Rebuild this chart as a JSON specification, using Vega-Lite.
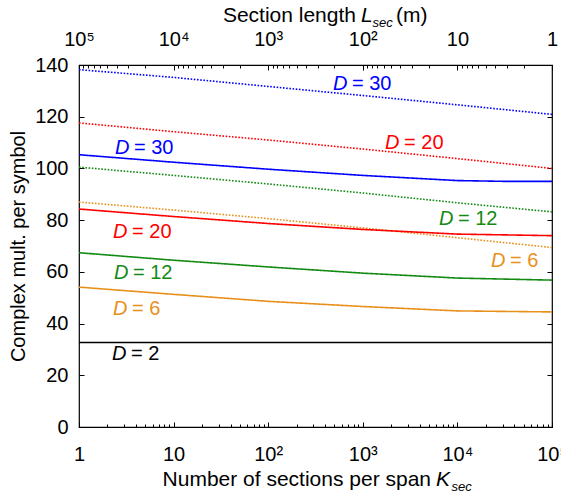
{
  "$schema": "https://vega.github.io/schema/vega-lite/v6.json",
  "width": 473,
  "height": 362,
  "autosize": "none",
  "padding": {"left": 79, "top": 65, "right": 9, "bottom": 72},
  "background": "white",
  "config": {
    "font": "Liberation Sans",
    "view": {"stroke": "black", "strokeWidth": 1.2},
    "axis": {
      "domain": false, "grid": false, "tickColor": "black", "tickWidth": 1,
      "labelColor": "black", "labelFont": "Liberation Sans", "labelFontSize": 20,
      "titleFont": "Liberation Sans", "titleFontWeight": "normal", "titleColor": "black",
      "labelFlush": false, "labelOverlap": false, "labelBound": false
    },
    "text": {"font": "Liberation Sans"}
  },
  "datasets": {
    "lines": [
      {"K": 1, "v": 138.2, "D": "30", "kind": "dotted", "s": "30d"},
      {"K": 10, "v": 135.2, "D": "30", "kind": "dotted", "s": "30d"},
      {"K": 100, "v": 131.7, "D": "30", "kind": "dotted", "s": "30d"},
      {"K": 1000, "v": 128.2, "D": "30", "kind": "dotted", "s": "30d"},
      {"K": 10000, "v": 124.6, "D": "30", "kind": "dotted", "s": "30d"},
      {"K": 100000, "v": 120.9, "D": "30", "kind": "dotted", "s": "30d"},
      {"K": 1, "v": 117.6, "D": "20", "kind": "dotted", "s": "20d"},
      {"K": 10, "v": 114.2, "D": "20", "kind": "dotted", "s": "20d"},
      {"K": 100, "v": 111.0, "D": "20", "kind": "dotted", "s": "20d"},
      {"K": 1000, "v": 107.5, "D": "20", "kind": "dotted", "s": "20d"},
      {"K": 10000, "v": 103.8, "D": "20", "kind": "dotted", "s": "20d"},
      {"K": 100000, "v": 100.0, "D": "20", "kind": "dotted", "s": "20d"},
      {"K": 1, "v": 100.5, "D": "12", "kind": "dotted", "s": "12d"},
      {"K": 10, "v": 97.3, "D": "12", "kind": "dotted", "s": "12d"},
      {"K": 100, "v": 94.0, "D": "12", "kind": "dotted", "s": "12d"},
      {"K": 1000, "v": 90.5, "D": "12", "kind": "dotted", "s": "12d"},
      {"K": 10000, "v": 86.7, "D": "12", "kind": "dotted", "s": "12d"},
      {"K": 100000, "v": 83.2, "D": "12", "kind": "dotted", "s": "12d"},
      {"K": 1, "v": 87.0, "D": "6", "kind": "dotted", "s": "6d"},
      {"K": 10, "v": 83.9, "D": "6", "kind": "dotted", "s": "6d"},
      {"K": 100, "v": 80.6, "D": "6", "kind": "dotted", "s": "6d"},
      {"K": 1000, "v": 77.0, "D": "6", "kind": "dotted", "s": "6d"},
      {"K": 10000, "v": 73.2, "D": "6", "kind": "dotted", "s": "6d"},
      {"K": 100000, "v": 69.4, "D": "6", "kind": "dotted", "s": "6d"},
      {"K": 1, "v": 105.3, "D": "30", "kind": "solid", "s": "30s"},
      {"K": 10, "v": 102.4, "D": "30", "kind": "solid", "s": "30s"},
      {"K": 100, "v": 99.7, "D": "30", "kind": "solid", "s": "30s"},
      {"K": 1000, "v": 97.3, "D": "30", "kind": "solid", "s": "30s"},
      {"K": 10000, "v": 95.3, "D": "30", "kind": "solid", "s": "30s"},
      {"K": 31623, "v": 95.0, "D": "30", "kind": "solid", "s": "30s"},
      {"K": 100000, "v": 95.0, "D": "30", "kind": "solid", "s": "30s"},
      {"K": 1, "v": 84.3, "D": "20", "kind": "solid", "s": "20s"},
      {"K": 10, "v": 81.4, "D": "20", "kind": "solid", "s": "20s"},
      {"K": 100, "v": 78.7, "D": "20", "kind": "solid", "s": "20s"},
      {"K": 1000, "v": 76.4, "D": "20", "kind": "solid", "s": "20s"},
      {"K": 10000, "v": 74.6, "D": "20", "kind": "solid", "s": "20s"},
      {"K": 100000, "v": 74.0, "D": "20", "kind": "solid", "s": "20s"},
      {"K": 1, "v": 67.4, "D": "12", "kind": "solid", "s": "12s"},
      {"K": 10, "v": 64.5, "D": "12", "kind": "solid", "s": "12s"},
      {"K": 100, "v": 61.9, "D": "12", "kind": "solid", "s": "12s"},
      {"K": 1000, "v": 59.5, "D": "12", "kind": "solid", "s": "12s"},
      {"K": 10000, "v": 57.6, "D": "12", "kind": "solid", "s": "12s"},
      {"K": 100000, "v": 56.8, "D": "12", "kind": "solid", "s": "12s"},
      {"K": 1, "v": 54.1, "D": "6", "kind": "solid", "s": "6s"},
      {"K": 10, "v": 51.3, "D": "6", "kind": "solid", "s": "6s"},
      {"K": 100, "v": 48.6, "D": "6", "kind": "solid", "s": "6s"},
      {"K": 1000, "v": 46.6, "D": "6", "kind": "solid", "s": "6s"},
      {"K": 10000, "v": 44.9, "D": "6", "kind": "solid", "s": "6s"},
      {"K": 100000, "v": 44.5, "D": "6", "kind": "solid", "s": "6s"},
      {"K": 1, "v": 32.7, "D": "2", "kind": "solid", "s": "2s"},
      {"K": 100000, "v": 32.7, "D": "2", "kind": "solid", "s": "2s"}
    ],
    "labels": [
      {"K": 484, "v": 132.6, "D": "30", "Dt": "D", "rest": "= 30"},
      {"K": 1718, "v": 109.8, "D": "20", "Dt": "D", "rest": "= 20"},
      {"K": 2.4, "v": 107.9, "D": "30", "Dt": "D", "rest": "= 30"},
      {"K": 6380, "v": 80.4, "D": "12", "Dt": "D", "rest": "= 12"},
      {"K": 2.29, "v": 75.6, "D": "20", "Dt": "D", "rest": "= 20"},
      {"K": 22650, "v": 64.2, "D": "6", "Dt": "D", "rest": "= 6"},
      {"K": 2.34, "v": 59.6, "D": "12", "Dt": "D", "rest": "= 12"},
      {"K": 2.29, "v": 45.8, "D": "6", "Dt": "D", "rest": "= 6"},
      {"K": 2.23, "v": 28.2, "D": "2", "Dt": "D", "rest": "= 2"}
    ],
    "titles": [
      {"K": 957, "v": 156.7, "t": "Section length", "part": "main"},
      {"K": 5943, "v": -23, "t": "Number of sections per span", "part": "main"},
      {"K": 957, "v": 156.7, "t": "L", "part": "sym"},
      {"K": 5943, "v": -23, "t": "K", "part": "sym"},
      {"K": 957, "v": 156.7, "t": "sec", "part": "subL"},
      {"K": 5943, "v": -23, "t": "sec", "part": "subK"},
      {"K": 957, "v": 156.7, "t": "(m)", "part": "unit"}
    ]
  },
  "layer": [
    {
      "data": {"name": "lines"},
      "mark": {"type": "line", "strokeWidth": 1.6},
      "encoding": {
        "x": {"field": "K", "type": "quantitative",
          "scale": {"type": "log", "domain": [1, 100000], "nice": false},
          "axis": {"orient": "bottom", "values": [1, 10, 100, 1000, 10000, 100000],
            "labelExpr": "datum.value==1?'1':datum.value==10?'10':datum.value==100?'10²':datum.value==1000?'10³':datum.value==10000?'10⁴':'10⁵'",
            "tickSize": -5, "labelPadding": 22, "title": null}},
        "y": {"field": "v", "type": "quantitative",
          "scale": {"domain": [0, 140], "nice": false},
          "axis": {"orient": "left", "values": [0, 20, 40, 60, 80, 100, 120, 140],
            "tickSize": -5, "labelPadding": 16,
            "title": "Complex mult. per symbol", "titleFontSize": 20, "titlePadding": 6}},
        "color": {"field": "D", "type": "nominal",
          "scale": {"domain": ["30", "20", "12", "6", "2"],
            "range": ["#0000ff", "#ff0000", "#138a13", "#e8901c", "#000000"]},
          "legend": null},
        "strokeDash": {"field": "kind", "type": "nominal",
          "scale": {"domain": ["solid", "dotted"], "range": [[1, 0], [1.6, 1.6]]},
          "legend": null},
        "detail": {"field": "s"}
      }
    },
    {
      "data": {"name": "labels"},
      "mark": {"type": "text", "align": "left", "baseline": "middle", "fontStyle": "italic", "fontSize": 20},
      "encoding": {
        "x": {"field": "K", "type": "quantitative",
          "scale": {"type": "log", "domain": [1, 100000], "nice": false},
          "axis": {"orient": "top", "values": [1, 10, 100, 1000, 10000, 100000],
            "labelExpr": "datum.value==1?'10⁵':datum.value==10?'10⁴':datum.value==100?'10³':datum.value==1000?'10²':datum.value==10000?'10':'1'",
            "tickSize": -5, "labelPadding": 21, "title": null}},
        "y": {"field": "v", "type": "quantitative",
          "scale": {"domain": [0, 140], "nice": false},
          "axis": {"orient": "right", "values": [0, 20, 40, 60, 80, 100, 120, 140],
            "tickSize": -5, "labels": false, "title": null}},
        "color": {"field": "D", "type": "nominal", "legend": null},
        "text": {"field": "Dt"}
      }
    },
    {
      "data": {"name": "labels"},
      "mark": {"type": "text", "align": "left", "baseline": "middle", "fontSize": 20, "dx": 19},
      "encoding": {
        "x": {"field": "K", "type": "quantitative",
          "scale": {"type": "log", "domain": [1, 100000], "nice": false},
          "axis": {"orient": "bottom",
            "values": [2, 3, 4, 5, 6, 7, 8, 9, 20, 30, 40, 50, 60, 70, 80, 90, 200, 300, 400, 500, 600, 700, 800, 900, 2000, 3000, 4000, 5000, 6000, 7000, 8000, 9000, 20000, 30000, 40000, 50000, 60000, 70000, 80000, 90000],
            "tickSize": -3, "labels": false, "title": null}},
        "y": {"field": "v", "type": "quantitative", "scale": {"domain": [0, 140], "nice": false}, "axis": null},
        "color": {"field": "D", "type": "nominal", "legend": null},
        "text": {"field": "rest"}
      }
    },
    {
      "data": {"name": "titles"},
      "transform": [{"filter": "datum.part == 'main'"}],
      "mark": {"type": "text", "align": "right", "baseline": "alphabetic", "fontSize": 21, "dx": -5, "color": "black"},
      "encoding": {
        "x": {"field": "K", "type": "quantitative",
          "scale": {"type": "log", "domain": [1, 100000], "nice": false},
          "axis": {"orient": "top",
            "values": [1.1111, 1.25, 1.4286, 1.6667, 2, 2.5, 3.3333, 5, 11.111, 12.5, 14.286, 16.667, 20, 25, 33.333, 50, 111.11, 125, 142.86, 166.67, 200, 250, 333.33, 500, 1111.1, 1250, 1428.6, 1666.7, 2000, 2500, 3333.3, 5000, 11111, 12500, 14286, 16667, 20000, 25000, 33333, 50000],
            "tickSize": -3, "labels": false, "title": null}},
        "y": {"field": "v", "type": "quantitative", "scale": {"domain": [0, 140], "nice": false}, "axis": null},
        "text": {"field": "t"}
      }
    },
    {
      "data": {"name": "titles"},
      "transform": [{"filter": "datum.part == 'sym'"}],
      "mark": {"type": "text", "align": "left", "baseline": "alphabetic", "fontSize": 21, "fontStyle": "italic", "color": "black"},
      "encoding": {
        "x": {"field": "K", "type": "quantitative", "scale": {"type": "log", "domain": [1, 100000], "nice": false}, "axis": null},
        "y": {"field": "v", "type": "quantitative", "scale": {"domain": [0, 140], "nice": false}, "axis": null},
        "text": {"field": "t"}
      }
    },
    {
      "data": {"name": "titles"},
      "transform": [{"filter": "datum.part == 'subL'"}],
      "mark": {"type": "text", "align": "left", "baseline": "alphabetic", "fontSize": 13, "fontStyle": "italic", "dx": 11.5, "dy": 5, "color": "black"},
      "encoding": {
        "x": {"field": "K", "type": "quantitative", "scale": {"type": "log", "domain": [1, 100000], "nice": false}, "axis": null},
        "y": {"field": "v", "type": "quantitative", "scale": {"domain": [0, 140], "nice": false}, "axis": null},
        "text": {"field": "t"}
      }
    },
    {
      "data": {"name": "titles"},
      "transform": [{"filter": "datum.part == 'subK'"}],
      "mark": {"type": "text", "align": "left", "baseline": "alphabetic", "fontSize": 13, "fontStyle": "italic", "dx": 15.5, "dy": 5, "color": "black"},
      "encoding": {
        "x": {"field": "K", "type": "quantitative", "scale": {"type": "log", "domain": [1, 100000], "nice": false}, "axis": null},
        "y": {"field": "v", "type": "quantitative", "scale": {"domain": [0, 140], "nice": false}, "axis": null},
        "text": {"field": "t"}
      }
    },
    {
      "data": {"name": "titles"},
      "transform": [{"filter": "datum.part == 'unit'"}],
      "mark": {"type": "text", "align": "left", "baseline": "alphabetic", "fontSize": 21, "dx": 35, "color": "black"},
      "encoding": {
        "x": {"field": "K", "type": "quantitative", "scale": {"type": "log", "domain": [1, 100000], "nice": false}, "axis": null},
        "y": {"field": "v", "type": "quantitative", "scale": {"domain": [0, 140], "nice": false}, "axis": null},
        "text": {"field": "t"}
      }
    }
  ],
  "resolve": {"axis": {"x": "independent", "y": "independent"}}
}
